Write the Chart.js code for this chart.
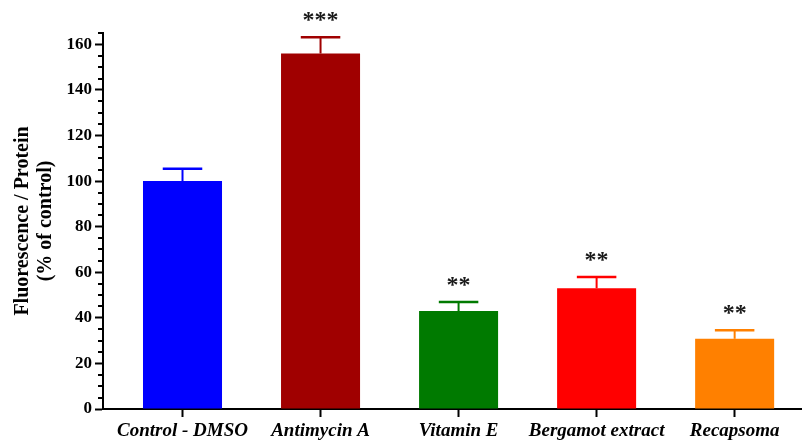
<!DOCTYPE html>
<html>
<head>
<meta charset="utf-8">
<script src="https://cdn.jsdelivr.net/npm/chart.js@4.4.1/dist/chart.umd.min.js"></script>
<style>
  html, body { margin: 0; padding: 0; background: #ffffff; }
  #wrap { width: 802px; height: 441px; }
</style>
</head>
<body>
<div id="wrap"><canvas id="chart" width="802" height="441"></canvas></div>
<script>
// Treatment groups, mean fluorescence/protein (% of control) and SEM
const groups = ['Control - DMSO', 'Antimycin A', 'Vitamin E', 'Bergamot extract', 'Recapsoma'];
const means = [100, 156, 43, 53, 30.8];
const sems = [5.4, 7.1, 3.9, 4.9, 3.8];
const significance = ['', '***', '**', '**', '**'];
const barColors = ['#0000ff', '#a00000', '#007a00', '#ff0000', '#ff8000'];
const yMajorTicks = [0, 20, 40, 60, 80, 100, 120, 140, 160];

const serif = '"Liberation Serif", "Times New Roman", serif';

// Error bars, minor y ticks and significance stars
const annotations = {
  id: 'annotations',
  afterDatasetsDraw(chart) {
    const ctx = chart.ctx;
    const y = chart.scales.y;
    const meta = chart.getDatasetMeta(0);
    ctx.save();
    meta.data.forEach((bar, i) => {
      const top = y.getPixelForValue(means[i] + sems[i]);
      const base = y.getPixelForValue(means[i]);
      const half = bar.width / 4;
      ctx.strokeStyle = barColors[i];
      ctx.lineWidth = 2;
      ctx.beginPath();
      ctx.moveTo(bar.x, base);
      ctx.lineTo(bar.x, top);
      ctx.stroke();
      ctx.lineWidth = 2.5;
      ctx.beginPath();
      ctx.moveTo(bar.x - half, top);
      ctx.lineTo(bar.x + half, top);
      ctx.stroke();
      if (significance[i]) {
        ctx.fillStyle = '#1a1a1a';
        ctx.font = 'bold 24px ' + serif;
        ctx.textAlign = 'center';
        ctx.textBaseline = 'alphabetic';
        ctx.fillText(significance[i], bar.x, top - 10);
      }
    });
    // minor ticks every 5 units
    const left = chart.chartArea.left;
    ctx.strokeStyle = '#000';
    ctx.lineWidth = 2;
    for (let v = 5; v <= y.max; v += 5) {
      if (v % 20 === 0) continue;
      const py = Math.round(y.getPixelForValue(v));
      ctx.beginPath();
      ctx.moveTo(left - 5, py);
      ctx.lineTo(left, py);
      ctx.stroke();
    }
    ctx.restore();
  }
};

new Chart(document.getElementById('chart'), {
  type: 'bar',
  data: {
    datasets: [{
      data: groups.map((g, i) => ({ x: i, y: means[i] })),
      backgroundColor: barColors,
      borderWidth: 0,
      barPercentage: 0.5725,
      categoryPercentage: 1
    }]
  },
  options: {
    responsive: false,
    animation: false,
    layout: { padding: { top: 33, right: 0, left: 0, bottom: 0 } },
    plugins: {
      legend: { display: false },
      tooltip: { enabled: false }
    },
    scales: {
      x: {
        type: 'linear',
        offset: false,
        min: -0.576,
        max: 4.488,
        afterBuildTicks(scale) {
          scale.ticks = groups.map((g, i) => ({ value: i }));
        },
        afterFit(scale) { scale.height = 32; },
        ticks: {
          autoSkip: false,
          maxRotation: 0,
          padding: 3,
          color: '#000',
          font: { family: serif, size: 19, weight: 'bold', style: 'italic' },
          callback: (v) => groups[v] ?? ''
        },
        grid: {
          offset: false,
          drawOnChartArea: false,
          drawTicks: true,
          tickLength: 8,
          tickWidth: 2,
          tickColor: '#000'
        },
        border: { display: true, color: '#000', width: 2 }
      },
      y: {
        min: 0,
        max: 165,
        afterBuildTicks(scale) {
          scale.ticks = yMajorTicks.map(v => ({ value: v }));
        },
        afterFit(scale) { scale.width = 103; },
        ticks: {
          padding: 3,
          color: '#000',
          font: { family: serif, size: 17, weight: 'bold' }
        },
        grid: {
          drawOnChartArea: false,
          drawTicks: true,
          tickLength: 8,
          tickWidth: 2,
          tickColor: '#000'
        },
        border: { display: true, color: '#000', width: 2 },
        title: {
          display: true,
          text: ['Fluorescence / Protein', '(% of control)'],
          color: '#000',
          padding: { top: 11, bottom: 0 },
          font: { family: serif, size: 20, weight: 'bold', lineHeight: 1.15 }
        }
      }
    }
  },
  plugins: [annotations]
});
</script>
</body>
</html>
